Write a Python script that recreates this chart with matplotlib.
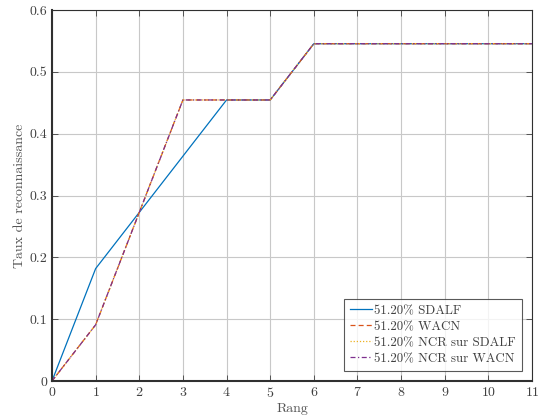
import matplotlib
matplotlib.use("Agg")
import matplotlib.pyplot as plt

plt.rcParams['font.family'] = ['cmr10', 'DejaVu Serif']
plt.rcParams['mathtext.fontset'] = 'cm'
plt.rcParams['axes.formatter.use_mathtext'] = True

rangs = list(range(12))
sdalf = [0, 0.1818, 0.2727, 0.3636, 0.4545, 0.4545, 0.5455, 0.5455, 0.5455, 0.5455, 0.5455, 0.5455]
wacn = [0, 0.0909, 0.2727, 0.4545, 0.4545, 0.4545, 0.5455, 0.5455, 0.5455, 0.5455, 0.5455, 0.5455]
ncr_sdalf = [0, 0.0909, 0.2727, 0.4545, 0.4545, 0.4545, 0.5455, 0.5455, 0.5455, 0.5455, 0.5455, 0.5455]
ncr_wacn = [0, 0.0909, 0.2727, 0.4545, 0.4545, 0.4545, 0.5455, 0.5455, 0.5455, 0.5455, 0.5455, 0.5455]
labels = ['51.20% SDALF', '51.20% WACN', '51.20% NCR sur SDALF', '51.20% NCR sur WACN']
xticks = list(range(12))
yticks = [0, 0.1, 0.2, 0.3, 0.4, 0.5, 0.6]

fig = plt.figure(figsize=(5.38, 4.2), dpi=100)
ax = fig.add_axes([52/538, 1-381/420, 480/538, 371/420])

ax.plot(rangs, sdalf, color='#0072BD', lw=0.9, ls='-', label=labels[0])
ax.plot(rangs, wacn, color='#D95319', lw=0.9, ls=(0, (4, 2.5)), label=labels[1])
ax.plot(rangs, ncr_sdalf, color='#EDB120', lw=0.9, ls=(0, (1, 1.5)), label=labels[2])
ax.plot(rangs, ncr_wacn, color='#7E2F8E', lw=0.9, ls=(0, (4, 2, 1, 2)), label=labels[3])

ax.set_xlim(0, 11)
ax.set_ylim(0, 0.6)
ax.set_xticks(xticks)
ax.set_yticks(yticks)
ax.set_yticklabels(['0', '0.1', '0.2', '0.3', '0.4', '0.5', '0.6'])
ax.grid(True, color='#c8c8c8', lw=0.8)
ax.set_axisbelow(True)
tc = '#404040'
ax.tick_params(direction='in', length=4, colors=tc, labelsize=10, top=True, right=True, width=0.6)
for s in ax.spines.values():
    s.set_color('#303030')
    s.set_linewidth(0.8)
ax.spines['left'].set_linewidth(1.5)
ax.spines['bottom'].set_linewidth(1.5)
ax.set_xlabel('Rang', color='#555555', fontsize=10, labelpad=2)
ax.set_ylabel('Taux de reconnaissance', color='#555555', fontsize=10, labelpad=2)

leg = ax.legend(loc='lower right', fontsize=9.3, frameon=True, fancybox=False,
                edgecolor='#303030', borderaxespad=0.8, handlelength=1.7,
                handletextpad=0.2, borderpad=0.45, labelspacing=0.3)
leg.get_frame().set_linewidth(0.8)
for t in leg.get_texts():
    t.set_color('#404040')

fig.savefig('out.png', dpi=100)
